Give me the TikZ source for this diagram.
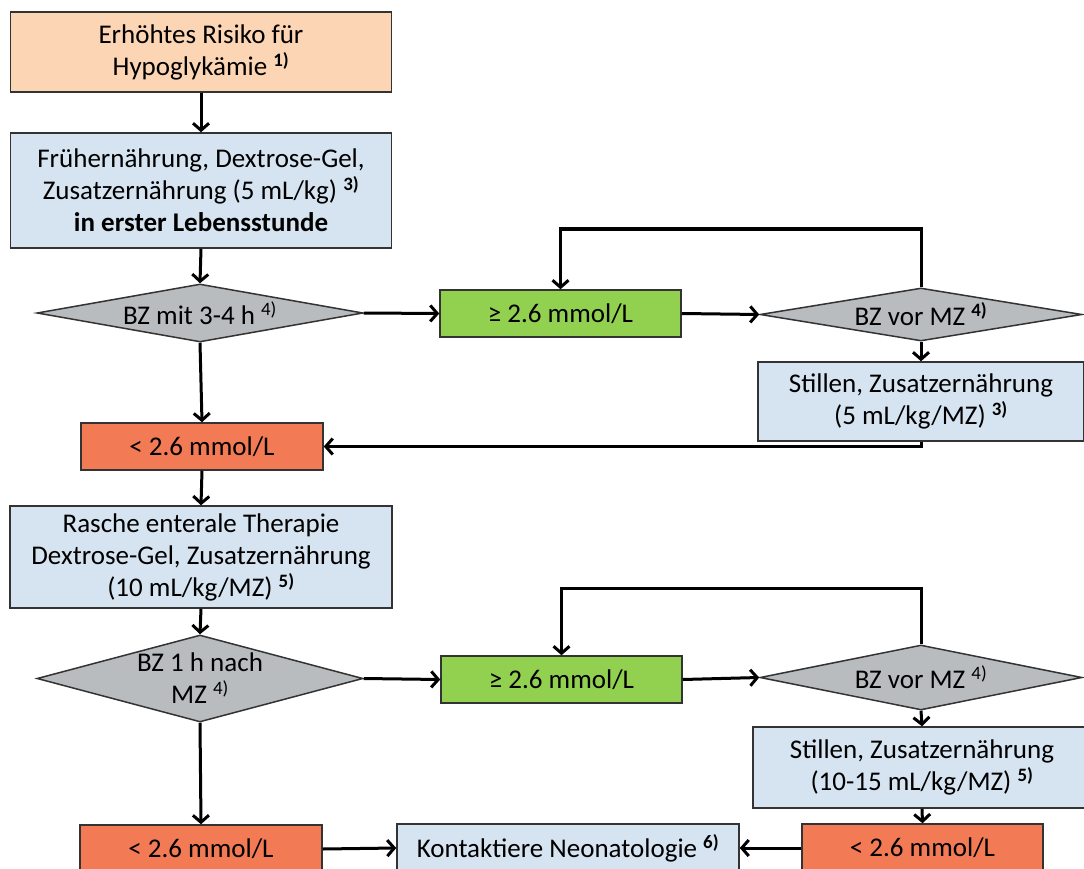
\documentclass[tikz,border=0pt]{standalone}
\usepackage{fontspec}
\setmainfont{Carlito}
\usetikzlibrary{shapes.geometric,arrows.meta}
\definecolor{peach}{HTML}{FCD5B5}
\definecolor{lblue}{HTML}{D6E3F0}
\definecolor{lgreen}{HTML}{92D050}
\definecolor{lred}{HTML}{F27A55}
\definecolor{dgray}{HTML}{B9BCBF}
\definecolor{bord}{HTML}{333333}
\newcommand\fnb[1]{\textsuperscript{\textbf{#1}}}
\newcommand\fnn[1]{\textsuperscript{#1}}
\begin{document}
\begin{tikzpicture}[x=1pt,y=-1pt,
  font=\fontsize{27}{32}\selectfont,
  box/.style={draw=bord, line width=1.5pt, inner sep=0pt, align=center, text=black},
  dia/.style={box, shape=diamond, fill=dgray},
  arr/.style={line width=3pt, -{Straight Barb[length=7pt,width=16pt,line width=3pt]}}]
\clip (0,0) rectangle (1084,869);
\fill[white] (0,0) rectangle (1084,869);

\node[box, fill=peach, minimum width=381pt, minimum height=80pt] (b1) at (201,52)
  {Erhöhtes Risiko für\\Hypoglykämie \fnb{1)}};
\node[box, fill=lblue, minimum width=381pt, minimum height=115pt] (b2) at (201,190.5)
  {Frühernährung, Dextrose-Gel,\\Zusatzernährung (5 mL/kg) \fnb{3)}\\\textbf{in erster Lebensstunde}};
\node[dia, aspect=5.6, minimum width=326pt, minimum height=58pt] (d1) at (200,313)
  {BZ mit 3-4 h \fnn{4)}};
\node[box, fill=lgreen, minimum width=241pt, minimum height=47pt] (g1) at (560.5,313.5)
  {≥ 2.6 mmol/L};
\node[dia, aspect=6.1, minimum width=322pt, minimum height=53pt] (d2) at (921,314.5)
  {BZ vor MZ \fnb{4)}};
\node[box, fill=lblue, minimum width=326pt, minimum height=79pt] (s1) at (921,401.5)
  {Stillen, Zusatzernährung\\(5 mL/kg/MZ) \fnb{3)}};
\node[box, fill=lred, minimum width=242pt, minimum height=47pt] (r1) at (202,446.5)
  {< 2.6 mmol/L};
\node[box, fill=lblue, minimum width=382pt, minimum height=102pt] (b3) at (201,557)
  {Rasche enterale Therapie\\Dextrose-Gel, Zusatzernährung\\(10 mL/kg/MZ) \fnb{5)}};
\node[dia, aspect=3.75, inner ysep=-5pt, minimum width=326pt, minimum height=87pt] (d3) at (200,678.5)
  {BZ 1 h nach\\MZ \fnn{4)}};
\node[box, fill=lgreen, minimum width=241pt, minimum height=47pt] (g2) at (561.5,679.5)
  {≥ 2.6 mmol/L};
\node[dia, aspect=4.95, minimum width=322pt, minimum height=65pt] (d4) at (921,677.5)
  {BZ vor MZ \fnn{4)}};
\node[box, fill=lblue, minimum width=338pt, minimum height=81pt] (s2) at (922,767.5)
  {Stillen, Zusatzernährung\\(10-15 mL/kg/MZ) \fnb{5)}};
\node[box, fill=lred, minimum width=242pt, minimum height=48pt] (r2) at (201,849)
  {< 2.6 mmol/L};
\node[box, fill=lblue, minimum width=342pt, minimum height=48pt] (k) at (568,848)
  {Kontaktiere Neonatologie \fnb{6)}};
\node[box, fill=lred, minimum width=241pt, minimum height=48pt] (r3) at (922.5,848)
  {< 2.6 mmol/L};

\draw[arr] (b1.south) -- (b2.north);
\draw[arr] (b2.south) -- (d1.north);
\draw[arr] (d1.east) -- (g1.west);
\draw[arr] (g1.east) -- (d2.west);
\draw[arr] (d2.north) -- (d2.north |- 0,229) -| (g1.north);
\draw[arr] (d2.south) -- (s1.north);
\draw[arr] (s1.south) |- (r1.east);
\draw[arr] (d1.south) -- (r1.north);
\draw[arr] (r1.south) -- (b3.north);
\draw[arr] (b3.south) -- (d3.north);
\draw[arr] (d3.east) -- (g2.west);
\draw[arr] (g2.east) -- (d4.west);
\draw[arr] (d4.north) -- (d4.north |- 0,588) -| (g2.north);
\draw[arr] (d4.south) -- (s2.north);
\draw[arr] (s2.south) -- (r3.north);
\draw[arr] (r3.west) -- (k.east);
\draw[arr] (r2.east) -- (k.west);
\draw[arr] (d3.south) -- (r2.north);
\end{tikzpicture}
\end{document}
